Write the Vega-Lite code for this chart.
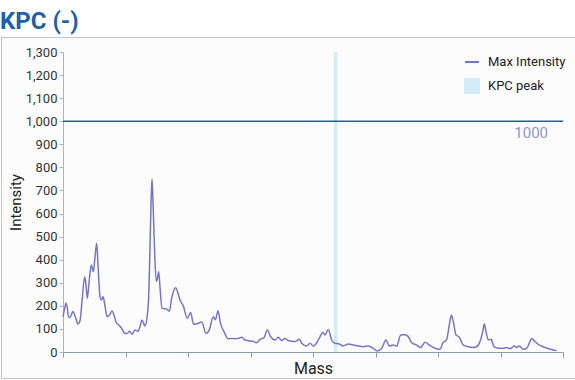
{
  "$schema": "https://vega.github.io/schema/vega-lite/v6.json",
  "width": 574,
  "height": 341,
  "autosize": {"type": "none"},
  "padding": {"left": 1, "top": 37, "right": 0, "bottom": 2},
  "background": "#ffffff",
  "title": {
    "text": "KPC (-)",
    "anchor": "start",
    "frame": "group",
    "orient": "top",
    "font": "Roboto, sans-serif",
    "fontSize": 24,
    "fontWeight": "bold",
    "color": "#1d62a6",
    "baseline": "alphabetic",
    "offset": 9,
    "dx": -1,
    "dy": 25
  },
  "config": {
    "view": {"fill": "#fcfcfc", "stroke": "#c4c4c4", "strokeWidth": 1},
    "font": "Roboto, sans-serif",
    "axisY": {
      "grid": false,
      "offset": -62,
      "domainColor": "#aab6bf",
      "tickColor": "#aab6bf",
      "tickSize": 4,
      "labelFontSize": 13,
      "labelColor": "#333333",
      "labelPadding": 2,
      "titleFontSize": 15,
      "titleFontWeight": "normal",
      "titleColor": "#222222",
      "titlePadding": 2
    },
    "axisX": {
      "labels": false,
      "grid": false,
      "offset": -26,
      "domainColor": "#8c9ca8",
      "domainWidth": 1,
      "tickColor": "#8c9ca8",
      "tickSize": 5,
      "titleFontSize": 16,
      "titleFontWeight": "normal",
      "titleColor": "#222222",
      "titlePadding": 3
    }
  },
  "datasets": {
    "spectrum": [
      {"mass": 0, "intensity": 153}, {"mass": 1.5, "intensity": 185}, {"mass": 3, "intensity": 211}, {"mass": 4, "intensity": 200},
      {"mass": 5.5, "intensity": 153}, {"mass": 7, "intensity": 150}, {"mass": 10, "intensity": 175}, {"mass": 12.5, "intensity": 150},
      {"mass": 15, "intensity": 121}, {"mass": 17, "intensity": 135}, {"mass": 19, "intensity": 220}, {"mass": 21.7, "intensity": 326},
      {"mass": 23, "intensity": 290}, {"mass": 24.3, "intensity": 233}, {"mass": 26, "intensity": 300}, {"mass": 28.3, "intensity": 377},
      {"mass": 30.3, "intensity": 348}, {"mass": 32, "intensity": 410}, {"mass": 33.7, "intensity": 471}, {"mass": 35, "intensity": 380},
      {"mass": 37, "intensity": 240}, {"mass": 38.5, "intensity": 225}, {"mass": 40, "intensity": 240}, {"mass": 42, "intensity": 200},
      {"mass": 44, "intensity": 153}, {"mass": 46.5, "intensity": 160}, {"mass": 49, "intensity": 178}, {"mass": 51, "intensity": 160},
      {"mass": 53, "intensity": 130}, {"mass": 56.7, "intensity": 113}, {"mass": 59, "intensity": 100}, {"mass": 61.7, "intensity": 81},
      {"mass": 64, "intensity": 80}, {"mass": 66.7, "intensity": 90}, {"mass": 69, "intensity": 77}, {"mass": 72, "intensity": 95},
      {"mass": 75, "intensity": 90}, {"mass": 77, "intensity": 110}, {"mass": 79, "intensity": 139}, {"mass": 82, "intensity": 113},
      {"mass": 84, "intensity": 150}, {"mass": 85.7, "intensity": 240}, {"mass": 87, "intensity": 450}, {"mass": 88, "intensity": 640},
      {"mass": 89, "intensity": 750}, {"mass": 90, "intensity": 650}, {"mass": 91.5, "intensity": 450}, {"mass": 93.3, "intensity": 305},
      {"mass": 94.5, "intensity": 320}, {"mass": 95.7, "intensity": 348}, {"mass": 97, "intensity": 280}, {"mass": 99, "intensity": 190},
      {"mass": 101, "intensity": 188}, {"mass": 103.5, "intensity": 186}, {"mass": 106.3, "intensity": 177}, {"mass": 109, "intensity": 240},
      {"mass": 112.7, "intensity": 278}, {"mass": 115, "intensity": 255}, {"mass": 117, "intensity": 225}, {"mass": 120.3, "intensity": 200},
      {"mass": 124.3, "intensity": 146}, {"mass": 127.7, "intensity": 171}, {"mass": 130.5, "intensity": 120}, {"mass": 134, "intensity": 122},
      {"mass": 138.7, "intensity": 130}, {"mass": 143, "intensity": 81}, {"mass": 146.3, "intensity": 96}, {"mass": 150.3, "intensity": 153},
      {"mass": 152.5, "intensity": 140}, {"mass": 155, "intensity": 179}, {"mass": 157.5, "intensity": 124}, {"mass": 161, "intensity": 88},
      {"mass": 165.3, "intensity": 57}, {"mass": 168.7, "intensity": 59}, {"mass": 172, "intensity": 57}, {"mass": 175.3, "intensity": 59},
      {"mass": 178.7, "intensity": 64}, {"mass": 182, "intensity": 52}, {"mass": 185.3, "intensity": 49}, {"mass": 190.3, "intensity": 46},
      {"mass": 193.7, "intensity": 40}, {"mass": 197, "intensity": 55}, {"mass": 201, "intensity": 62}, {"mass": 204.3, "intensity": 95},
      {"mass": 207.7, "intensity": 66}, {"mass": 212, "intensity": 52}, {"mass": 215.3, "intensity": 64}, {"mass": 218.7, "intensity": 49},
      {"mass": 222, "intensity": 59}, {"mass": 225.3, "intensity": 49}, {"mass": 227, "intensity": 48}, {"mass": 232, "intensity": 45},
      {"mass": 236.3, "intensity": 55}, {"mass": 238.7, "intensity": 38}, {"mass": 243.7, "intensity": 26}, {"mass": 247, "intensity": 38},
      {"mass": 250.3, "intensity": 26}, {"mass": 253.7, "intensity": 40}, {"mass": 257, "intensity": 66}, {"mass": 259.7, "intensity": 84},
      {"mass": 262, "intensity": 74}, {"mass": 265.3, "intensity": 98}, {"mass": 268.7, "intensity": 52}, {"mass": 272, "intensity": 38},
      {"mass": 276.3, "intensity": 35}, {"mass": 280.3, "intensity": 26}, {"mass": 285.3, "intensity": 35}, {"mass": 290.3, "intensity": 30},
      {"mass": 295.3, "intensity": 26}, {"mass": 300.3, "intensity": 23}, {"mass": 305.3, "intensity": 26}, {"mass": 310.3, "intensity": 16},
      {"mass": 314.3, "intensity": 4}, {"mass": 318.7, "intensity": 16}, {"mass": 323, "intensity": 52}, {"mass": 326.3, "intensity": 26},
      {"mass": 330.3, "intensity": 30}, {"mass": 333.7, "intensity": 26}, {"mass": 337.7, "intensity": 74}, {"mass": 342, "intensity": 75},
      {"mass": 345.3, "intensity": 66}, {"mass": 348.7, "intensity": 40}, {"mass": 353.7, "intensity": 30}, {"mass": 357.7, "intensity": 19},
      {"mass": 362, "intensity": 42}, {"mass": 366.3, "intensity": 30}, {"mass": 372, "intensity": 16}, {"mass": 377, "intensity": 12},
      {"mass": 379.7, "intensity": 38}, {"mass": 383.7, "intensity": 55}, {"mass": 386.3, "intensity": 117}, {"mass": 388.3, "intensity": 160},
      {"mass": 390.3, "intensity": 131}, {"mass": 393, "intensity": 74}, {"mass": 396.3, "intensity": 64}, {"mass": 400.3, "intensity": 30},
      {"mass": 405.3, "intensity": 23}, {"mass": 410.3, "intensity": 20}, {"mass": 413.7, "intensity": 23}, {"mass": 417, "intensity": 45},
      {"mass": 419.7, "intensity": 88}, {"mass": 421.3, "intensity": 121}, {"mass": 423, "intensity": 88}, {"mass": 425.3, "intensity": 52},
      {"mass": 428, "intensity": 55}, {"mass": 431, "intensity": 23}, {"mass": 435.3, "intensity": 16}, {"mass": 440.3, "intensity": 16},
      {"mass": 443.7, "intensity": 19}, {"mass": 447, "intensity": 14}, {"mass": 451.3, "intensity": 26}, {"mass": 453.7, "intensity": 20},
      {"mass": 456.3, "intensity": 26}, {"mass": 460.3, "intensity": 12}, {"mass": 463.7, "intensity": 16}, {"mass": 467, "intensity": 45},
      {"mass": 468.7, "intensity": 59}, {"mass": 472, "intensity": 45}, {"mass": 476.3, "intensity": 30}, {"mass": 480.3, "intensity": 23},
      {"mass": 484.3, "intensity": 16}, {"mass": 487.7, "intensity": 12}, {"mass": 490.3, "intensity": 9}, {"mass": 493.7, "intensity": 6}
    ],
    "peak": [{"series": "KPC peak", "from": 271, "to": 274.3}],
    "threshold": [{"value": 1000}]
  },
  "layer": [
    {
      "data": {"name": "peak"},
      "mark": {"type": "rect", "opacity": 1},
      "encoding": {
        "x": {
          "field": "from", "type": "quantitative",
          "scale": {"domain": [0, 500], "range": [62, 562], "nice": false, "zero": false},
          "axis": {"title": "Mass", "values": [0, 62.5, 125, 187.5, 250, 312.5, 375, 437.5, 500]}
        },
        "x2": {"field": "to"},
        "y": {
          "datum": 0, "type": "quantitative",
          "scale": {"domain": [0, 1300], "range": [315, 15], "nice": false},
          "axis": {"title": "Intensity", "values": [0, 100, 200, 300, 400, 500, 600, 700, 800, 900, 1000, 1100, 1200, 1300], "format": ",.0f"}
        },
        "y2": {"datum": 1300},
        "color": {
          "field": "series",
          "type": "nominal",
          "scale": {"domain": ["Max Intensity", "KPC peak"], "range": ["#7676c6", "#d3eaf7"]},
          "legend": {
            "title": null,
            "orient": "none",
            "legendX": 463,
            "legendY": 17,
            "padding": 0,
            "symbolSize": 196,
            "symbolStrokeWidth": 2,
            "labelFontSize": 13,
            "labelColor": "#222222",
            "labelOffset": 8,
            "rowPadding": 6,
            "encode": {
              "symbols": {
                "update": {
                  "shape": {"signal": "datum.value === 'KPC peak' ? 'square' : 'stroke'"},
                  "fill": {"signal": "datum.value === 'KPC peak' ? '#d3eaf7' : 'transparent'"},
                  "stroke": {"signal": "datum.value === 'KPC peak' ? '#d3eaf7' : '#8c8cd0'"},
                  "strokeWidth": {"value": 2}
                }
              }
            }
          }
        }
      }
    },
    {
      "data": {"name": "spectrum"},
      "transform": [{"calculate": "'Max Intensity'", "as": "series"}],
      "mark": {"type": "line", "strokeWidth": 1.5, "interpolate": "monotone"},
      "encoding": {
        "x": {"field": "mass", "type": "quantitative",
          "axis": {"title": "Mass", "values": [0, 62.5, 125, 187.5, 250, 312.5, 375, 437.5, 500]}},
        "y": {"field": "intensity", "type": "quantitative",
          "axis": {"title": "Intensity", "values": [0, 100, 200, 300, 400, 500, 600, 700, 800, 900, 1000, 1100, 1200, 1300], "format": ",.0f"}},
        "color": {
          "field": "series",
          "type": "nominal",
          "legend": {
            "title": null,
            "orient": "none",
            "legendX": 463,
            "legendY": 17,
            "padding": 0,
            "symbolSize": 196,
            "symbolStrokeWidth": 2,
            "labelFontSize": 13,
            "labelColor": "#222222",
            "labelOffset": 8,
            "rowPadding": 6,
            "encode": {
              "symbols": {
                "update": {
                  "shape": {"signal": "datum.value === 'KPC peak' ? 'square' : 'stroke'"},
                  "fill": {"signal": "datum.value === 'KPC peak' ? '#d3eaf7' : 'transparent'"},
                  "stroke": {"signal": "datum.value === 'KPC peak' ? '#d3eaf7' : '#8c8cd0'"},
                  "strokeWidth": {"value": 2}
                }
              }
            }
          }
        }
      }
    },
    {
      "data": {"name": "threshold"},
      "mark": {"type": "rule", "color": "#1f5ea8", "strokeWidth": 1.5},
      "encoding": {
        "y": {"field": "value", "type": "quantitative",
          "axis": {"title": "Intensity", "values": [0, 100, 200, 300, 400, 500, 600, 700, 800, 900, 1000, 1100, 1200, 1300], "format": ",.0f"}},
        "x": {"datum": 0, "type": "quantitative",
          "axis": {"title": "Mass", "values": [0, 62.5, 125, 187.5, 250, 312.5, 375, 437.5, 500]}},
        "x2": {"datum": 500}
      }
    },
    {
      "data": {"name": "threshold"},
      "mark": {"type": "text", "align": "right", "baseline": "top", "dx": -15, "dy": 5, "fontSize": 15, "color": "#8f96cf"},
      "encoding": {
        "y": {"field": "value", "type": "quantitative",
          "axis": {"title": "Intensity", "values": [0, 100, 200, 300, 400, 500, 600, 700, 800, 900, 1000, 1100, 1200, 1300], "format": ",.0f"}},
        "x": {"datum": 500, "type": "quantitative",
          "axis": {"title": "Mass", "values": [0, 62.5, 125, 187.5, 250, 312.5, 375, 437.5, 500]}},
        "text": {"field": "value", "type": "quantitative", "format": "d"}
      }
    }
  ]
}
